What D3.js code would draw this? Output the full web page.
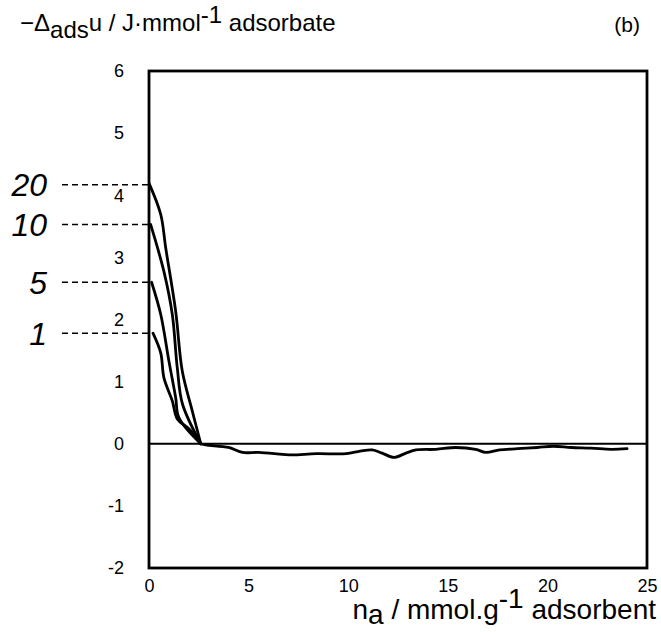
<!DOCTYPE html>
<html>
<head>
<meta charset="utf-8">
<script src="https://cdn.jsdelivr.net/npm/d3@7"></script>
<style>
    body { margin: 0; background: #fff; }
    #chart { width: 661px; height: 632px; }
    text { font-family: Arial, "Liberation Sans", Helvetica, sans-serif; fill: #000; }
</style>
</head>
<body>
<div id="chart"></div>
<script>
// axis ticks
const xTicks = [0, 5, 10, 15, 20, 25];
const yTicks = [6, 5, 4, 3, 2, 1, 0, -1, -2];

// labels of the four curves and the level where each one starts
const curveLabels = ["20", "10", "5", "1"];
const curveStarts = [4.17, 3.53, 2.60, 1.78];

// the rising parts, [n_a, -Δu]
const curve20 = [[0.02, 4.18], [0.59, 3.69], [0.84, 3.15], [1.34, 2.13], [1.67, 1.17], [2.17, 0.53], [2.6, 0]];
const curve10 = [[0.08, 3.53], [0.75, 2.77], [1.17, 2.08], [1.42, 1.22], [1.68, 0.64], [2.6, 0]];
const curve5 = [[0.13, 2.60], [0.59, 2.08], [1.0, 1.33], [1.34, 0.74], [1.5, 0.42], [2.6, 0]];
const curve1 = [[0.2, 1.78], [0.59, 1.46], [0.75, 1.06], [1.17, 0.69], [1.42, 0.40], [2.0, 0.24], [2.6, 0]];

// common tail after all curves meet
const tail = [[2.6, 0], [2.85, -0.02], [4.0, -0.06], [4.7, -0.14], [5.5, -0.14], [6.7, -0.17], [7.2, -0.18],
    [8.4, -0.16], [9.9, -0.16], [10.6, -0.12], [11.2, -0.10], [11.7, -0.15], [12.3, -0.22], [12.9, -0.15],
    [13.4, -0.10], [14.4, -0.09], [15.4, -0.06], [16.4, -0.09], [16.9, -0.14], [17.6, -0.10], [18.5, -0.08],
    [19.5, -0.06], [20.3, -0.04], [21.2, -0.06], [22.2, -0.07], [23.2, -0.09], [24.0, -0.08]];

class EnergyChart {

    constructor(parentElement) {
        this.parentElement = parentElement;
        this.curves = [curve20, curve10, curve5, curve1, tail];
        this.initVis();
    }

    initVis() {
        let vis = this;

        // margin conventions
        vis.margin = {top: 71, right: 14, bottom: 64, left: 149};
        vis.width = 661 - vis.margin.left - vis.margin.right;
        vis.height = 632 - vis.margin.top - vis.margin.bottom;

        vis.root = d3.select("#" + vis.parentElement).append("svg")
            .attr("width", 661)
            .attr("height", 632);

        vis.svg = vis.root.append("g")
            .attr("transform", "translate(" + vis.margin.left + "," + vis.margin.top + ")");

        vis.x = d3.scaleLinear().domain([0, 25]).range([0, vis.width]);
        vis.y = d3.scaleLinear().domain([-2, 6]).range([vis.height, 0]);

        // axes, labels only
        vis.svg.append("g")
            .attr("transform", "translate(0," + vis.height + ")")
            .call(d3.axisBottom(vis.x).tickValues(xTicks).tickSize(0).tickPadding(11))
            .call(g => g.select(".domain").remove())
            .selectAll("text").attr("font-size", 18).attr("font-family", "Arial");

        vis.svg.append("g")
            .call(d3.axisLeft(vis.y).tickValues(yTicks).tickSize(0).tickPadding(25)
                .tickFormat(d => String(d)))
            .call(g => g.select(".domain").remove())
            .selectAll("text").attr("font-size", 18).attr("font-family", "Arial");

        // zero line
        vis.svg.append("line")
            .attr("x1", 0).attr("x2", vis.width)
            .attr("y1", vis.y(0)).attr("y2", vis.y(0))
            .attr("stroke", "#000").attr("stroke-width", 1.8);

        // dashed leaders with the big italic labels
        curveStarts.forEach((v, i) => {
            vis.root.append("line")
                .attr("x1", 62).attr("x2", vis.margin.left)
                .attr("y1", vis.margin.top + vis.y(v)).attr("y2", vis.margin.top + vis.y(v))
                .attr("stroke", "#000").attr("stroke-width", 1.5)
                .attr("stroke-dasharray", "6,4");
            vis.root.append("text")
                .attr("x", 47).attr("y", vis.margin.top + vis.y(v))
                .attr("dy", "0.36em")
                .attr("text-anchor", "end")
                .attr("font-size", 32)
                .attr("font-style", "italic")
                .text(curveLabels[i]);
        });

        vis.line = d3.line()
            .x(d => vis.x(d[0]))
            .y(d => vis.y(d[1]))
            .curve(d3.curveCatmullRom);

        vis.svg.selectAll(".curve")
            .data(vis.curves)
            .enter().append("path")
            .attr("class", "curve")
            .attr("d", vis.line)
            .attr("fill", "none")
            .attr("stroke", "#000")
            .attr("stroke-width", 2.8)
            .attr("stroke-linejoin", "round")
            .attr("stroke-linecap", "round");

        // frame
        vis.svg.append("rect")
            .attr("x", 0).attr("y", 0)
            .attr("width", vis.width).attr("height", vis.height)
            .attr("fill", "none")
            .attr("stroke", "#000").attr("stroke-width", 2.8);

        // y title
        let yt = vis.root.append("text")
            .attr("x", 20).attr("y", 31)
            .attr("font-size", 24);
        yt.append("tspan").text("\u2212\u0394");
        yt.append("tspan").attr("dy", 7).text("ads");
        yt.append("tspan").attr("dy", -7).text("u / J\u00b7mmol");
        yt.append("tspan").attr("dy", -8).text("-1");
        yt.append("tspan").attr("dy", 8).text(" adsorbate");

        // panel letter
        vis.root.append("text")
            .attr("x", 640).attr("y", 32)
            .attr("text-anchor", "end")
            .attr("font-family", "'Liberation Serif', 'Times New Roman', serif")
            .attr("font-size", 21)
            .text("(b)");

        // x title
        let xt = vis.root.append("text")
            .attr("x", 656).attr("y", 619)
            .attr("text-anchor", "end")
            .attr("font-size", 28);
        xt.append("tspan").text("n");
        xt.append("tspan").attr("dy", 5).text("a");
        xt.append("tspan").attr("dy", -5).text(" / mmol.g");
        xt.append("tspan").attr("dy", -11).text("-1");
        xt.append("tspan").attr("dy", 11).text(" adsorbent");
    }
}

new EnergyChart("chart");
</script>
</body>
</html>
